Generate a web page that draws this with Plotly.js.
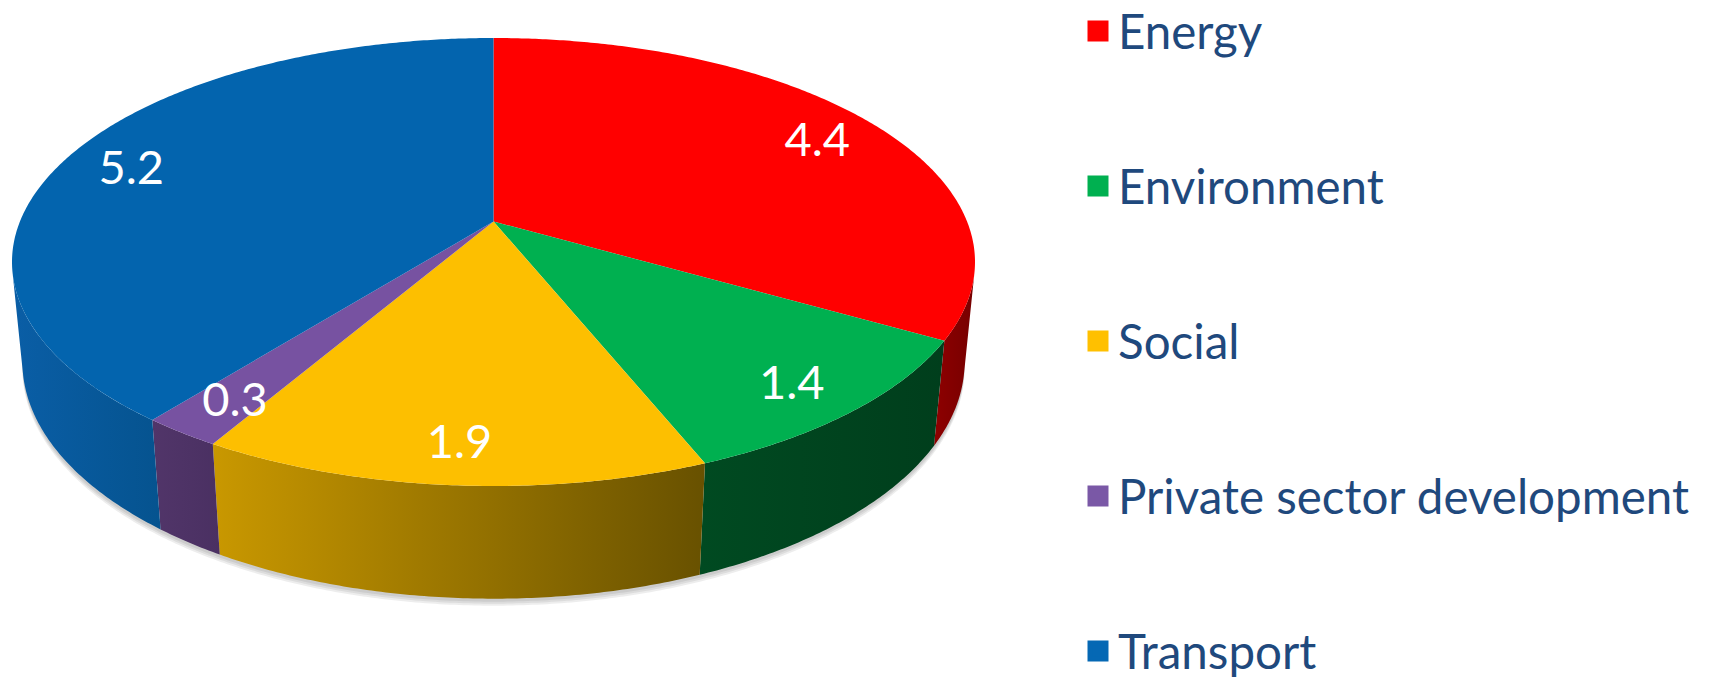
<!DOCTYPE html>
<html><head><meta charset="utf-8">
<script src="https://cdn.plot.ly/plotly-3.0.1.min.js"></script>
<style>html,body{margin:0;padding:0;background:#fff;} #chart{width:1711px;height:678px;}</style>
</head><body><div id="chart"></div>
<script>
// ---- data ----
const categories = ['Energy', 'Environment', 'Social', 'Private sector development', 'Transport'];
const values = [4.4, 1.4, 1.9, 0.3, 5.2];
const valueLabels = ['4.4', '1.4', '1.9', '0.3', '5.2'];

// ---- styles ----
const topColors = ['#FF0000', '#00B050', '#FDBF00', '#7752A1', '#0364AE'];
const wallLeft  = ['#8E0000', '#004A21', '#C99800', '#513569', '#0A5EA6'];
const wallRight = ['#760000', '#003E1C', '#685100', '#4A3062', '#05538F'];
const legendColors = ['#FF0000', '#00B050', '#FFC000', '#7A58A6', '#0568B4'];

// ---- 3D pie projection (perspective) ----
const ALPHA = 26.8 * Math.PI / 180, DIST = 4.94, FOC = 2379, THICK = 0.234, LABEL_R = 0.85;
const LABEL_DY = 8;
const BOX = {x0: 12, x1: 975, y0: 38, y1: 486};
function rawProj(thDeg, r, h) {
  const th = thDeg * Math.PI / 180;
  const x = r * Math.sin(th), z = -r * Math.cos(th), y = h;
  const Y = y * Math.cos(ALPHA) - z * Math.sin(ALPHA);
  const Z = y * Math.sin(ALPHA) + z * Math.cos(ALPHA);
  return [FOC * x / (DIST - Z), FOC * Y / (DIST - Z)];
}
let mnx = Infinity, mxx = -Infinity, mny = Infinity, mxy = -Infinity;
for (let a = 0; a < 360; a += 0.25) {
  const p = rawProj(a, 1, 0);
  mnx = Math.min(mnx, p[0]); mxx = Math.max(mxx, p[0]);
  mny = Math.min(mny, p[1]); mxy = Math.max(mxy, p[1]);
}
function proj(th, r, h) {
  const p = rawProj(th, r, h);
  return [BOX.x0 + (p[0] - mnx) / (mxx - mnx) * (BOX.x1 - BOX.x0),
          BOX.y0 + (mxy - p[1]) / (mxy - mny) * (BOX.y1 - BOX.y0)];
}
function arc(a1, a2, h, xs, ys, dy) {
  const n = Math.max(2, Math.ceil(Math.abs(a2 - a1) / 0.5));
  for (let k = 0; k <= n; k++) {
    const p = proj(a1 + (a2 - a1) * k / n, 1, h);
    xs.push(p[0]); ys.push(p[1] + (dy || 0));
  }
}
const visA = Math.acos(-1 / (DIST * Math.cos(ALPHA))) * 180 / Math.PI;
const visB = 360 - visA;

const traces = [];

// soft shadow under the pie
[7, 5, 3].forEach(off => {
  const sx = [], sy = [];
  arc(visA - 4, visB + 4, -THICK, sx, sy, off);
  arc(visB + 4, visA - 4, -THICK, sx, sy, -10);
  sx.push(sx[0]); sy.push(sy[0]);
  traces.push({type: 'scatter', x: sx, y: sy, mode: 'none', fill: 'toself',
    fillcolor: 'rgba(0,0,0,0.07)', hoverinfo: 'skip', showlegend: false});
});

const total = values.reduce((s, v) => s + v, 0);
const tops = [];
const labX = [], labY = [];
let cum = 0;
values.forEach((v, i) => {
  const a1 = cum / total * 360, a2 = (cum + v) / total * 360;
  cum += v;
  const apex = proj(0, 0, 0);
  const tx = [apex[0]], ty = [apex[1]];
  arc(a1, a2, 0, tx, ty);
  tx.push(apex[0]); ty.push(apex[1]);
  tops.push({type: 'scatter', x: tx, y: ty, mode: 'none', fill: 'toself',
    fillcolor: topColors[i], hoverinfo: 'skip', showlegend: false});
  const w1 = Math.max(a1, visA), w2 = Math.min(a2, visB);
  if (w1 < w2) {
    const wx = [], wy = [];
    arc(w1, w2, 0, wx, wy);
    arc(w2, w1, -THICK, wx, wy);
    wx.push(wx[0]); wy.push(wy[0]);
    traces.push({type: 'scatter', x: wx, y: wy, mode: 'none', fill: 'toself',
      fillcolor: wallLeft[i],
      fillgradient: {type: 'horizontal', start: Math.min(...wx), stop: Math.max(...wx),
        colorscale: [[0, wallLeft[i]], [1, wallRight[i]]]},
      hoverinfo: 'skip', showlegend: false});
  }
  const lp = proj((a1 + a2) / 2, LABEL_R, 0);
  labX.push(lp[0]); labY.push(lp[1] + LABEL_DY);
});

traces.push(...tops);
traces.push({type: 'scatter', x: labX, y: labY, mode: 'text', text: valueLabels,
  textposition: 'middle center', textfont: {family: 'Lato, sans-serif', size: 47, color: '#FFFFFF'},
  hoverinfo: 'skip', showlegend: false});

// legend entries: one legend per category, evenly spaced down the right side
const LEG_TOP = 31, LEG_STEP = 155;
const layout = {
  width: 1711, height: 678,
  margin: {l: 0, r: 0, t: 0, b: 0, autoexpand: false},
  paper_bgcolor: '#FFFFFF', plot_bgcolor: '#FFFFFF',
  xaxis: {range: [0, 1711], visible: false, fixedrange: true},
  yaxis: {range: [678, 0], visible: false, fixedrange: true},
  showlegend: true
};
categories.forEach((c, i) => {
  const key = i === 0 ? 'legend' : 'legend' + (i + 1);
  traces.push({type: 'scatter', x: [null], y: [null], mode: 'markers', name: c,
    legend: key, marker: {symbol: 'square', size: 16, color: legendColors[i],
    line: {width: 5, color: legendColors[i]}}, hoverinfo: 'skip'});
  layout[key] = {x: 1078 / 1711, y: 1 - (LEG_TOP + i * LEG_STEP) / 678,
    xanchor: 'left', yanchor: 'middle',
    font: {family: 'Lato, sans-serif', size: 47.5, color: '#1F497D'},
    bgcolor: 'rgba(0,0,0,0)', itemclick: false, itemdoubleclick: false};
});
Plotly.newPlot('chart', traces, layout, {displayModeBar: false, staticPlot: true});
</script>
</body></html>
